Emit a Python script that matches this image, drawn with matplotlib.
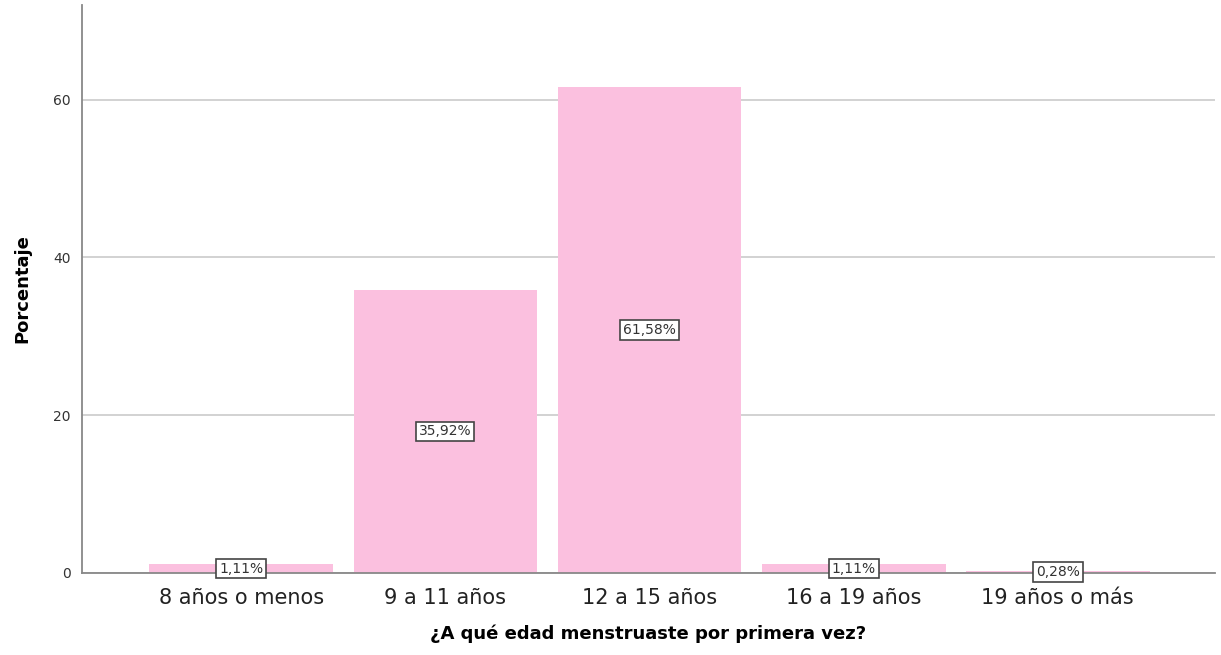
import numpy as np
import matplotlib.pyplot as plt

categorias = ["8 años o menos", "9 a 11 años", "12 a 15 años", "16 a 19 años", "19 años o más"]
porcentajes = [1.11, 35.92, 61.58, 1.11, 0.28]
etiquetas = ["1,11%", "35,92%", "61,58%", "1,11%", "0,28%"]

fig = plt.figure(figsize=(12.21, 6.55), dpi=100)
ax = fig.add_axes([82 / 1221, 1 - 573 / 655, (1215 - 82) / 1221, (573 - 5) / 655])

x = np.arange(len(categorias))
ax.set_axisbelow(True)
ax.yaxis.grid(True, color="#cfcfcf", lw=1.3)
ax.bar(x, porcentajes, width=0.9, color="#fbc0df", zorder=2)

for xi, v, t in zip(x, porcentajes, etiquetas):
    ax.text(xi, v / 2, t, ha="center", va="center", fontsize=10, color="#333333", zorder=4,
            bbox=dict(boxstyle="square,pad=0.2", fc="white", ec="#444444", lw=1.2))

ax.set_xlim(-0.78, 4.77)
ax.set_ylim(0, 72)
ax.set_yticks([0, 20, 40, 60])
ax.set_xticks(x)
ax.set_xticklabels(categorias, fontsize=15)
ax.tick_params(axis="y", labelsize=10, length=0, pad=8, colors="#333333")
ax.tick_params(axis="x", length=0, pad=11, colors="#222222")

for s in ["top", "right"]:
    ax.spines[s].set_visible(False)
ax.spines["left"].set_color("#888888")
ax.spines["bottom"].set_color("#888888")
ax.spines["left"].set_linewidth(1.3)
ax.spines["bottom"].set_linewidth(1.3)

ax.set_xlabel("¿A qué edad menstruaste por primera vez?", fontsize=13, fontweight="bold", labelpad=12)
ax.set_ylabel("Porcentaje", fontsize=13, fontweight="bold", labelpad=16)

fig.savefig("out.png", dpi=100)
